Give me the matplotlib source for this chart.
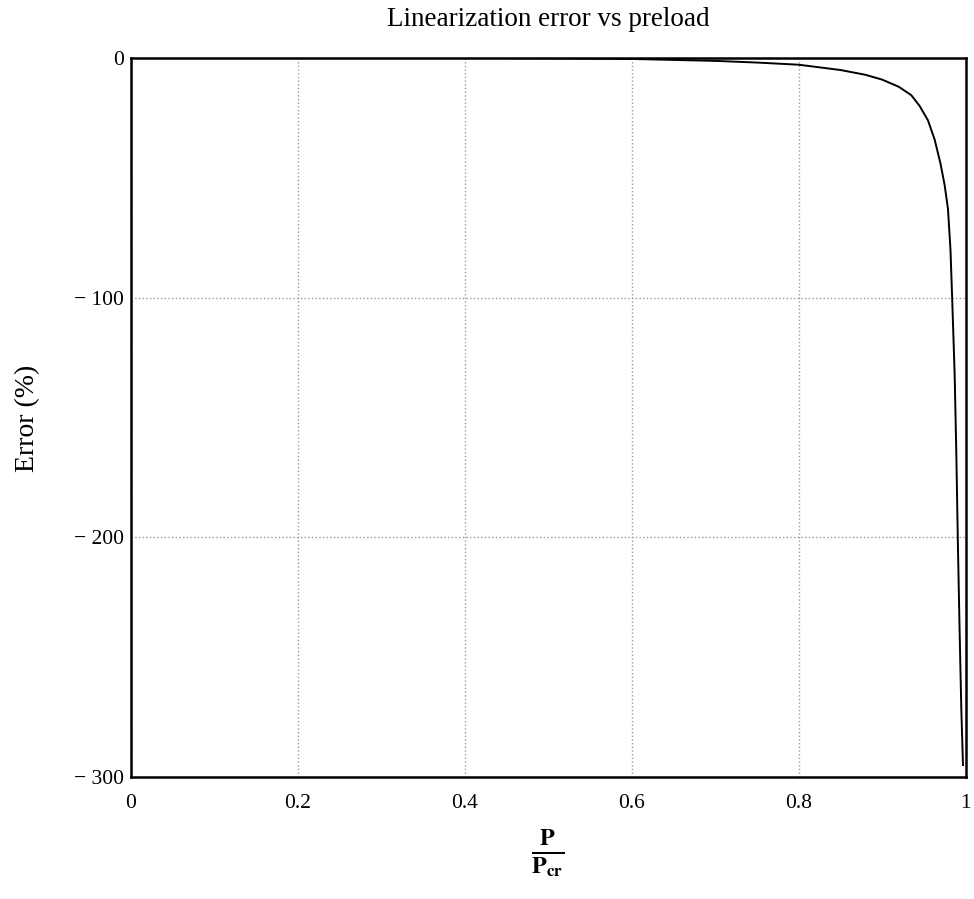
import matplotlib
matplotlib.use("Agg")
import matplotlib.pyplot as plt

plt.rcParams['font.family'] = ['Liberation Serif', 'DejaVu Serif']
plt.rcParams['mathtext.fontset'] = 'stix'

# Data: load ratio P/Pcr vs linearization error (%)
load_ratio = [0.42, 0.5, 0.6, 0.7, 0.75, 0.8, 0.85, 0.88, 0.9, 0.92, 0.935,
              0.945, 0.955, 0.963, 0.97, 0.975, 0.979, 0.982, 0.984, 0.987,
              0.989, 0.991, 0.993, 0.995, 0.997]
error_pct = [0.0, -0.1, -0.4, -1.2, -1.9, -2.8, -5.0, -7.0, -9.0, -12, -15.5,
             -20, -26, -34, -44, -53, -63, -80, -100, -132,
             -165, -205, -240, -272, -295]

x_ticks = [0, 0.2, 0.4, 0.6, 0.8, 1]
x_tick_labels = ["0", "0.2", "0.4", "0.6", "0.8", "1"]
y_ticks = [0, -100, -200, -300]
y_tick_labels = ["0", "\u2212 100", "\u2212 200", "\u2212 300"]

fig = plt.figure(figsize=(9.74, 8.99), dpi=100)
ax = fig.add_axes([131/974, 1-777/899, (965.5-131)/974, (777-58)/899])

ax.plot(load_ratio, error_pct, color='black', linewidth=1.4)

ax.set_xlim(0, 1)
ax.set_ylim(-300, 0)
ax.set_xticks(x_ticks)
ax.set_xticklabels(x_tick_labels)
ax.set_yticks(y_ticks)
ax.set_yticklabels(y_tick_labels)
ax.tick_params(length=0, labelsize=15.5, colors='black')
ax.tick_params(axis='y', pad=5)
ax.tick_params(axis='x', pad=12)
ax.grid(True, color='#9a9a9a', linestyle=':', linewidth=1.0)
for s in ax.spines.values():
    s.set_linewidth(1.8)
    s.set_color('black')

fig.text(548/974, 1-20/899, "Linearization error vs preload", ha='center', va='center', fontsize=19.5)
fig.text(28/974, 1-418/899, "Error (%)", ha='center', va='center', rotation=90, fontsize=20)
fig.text(548/974, 1-853/899, r'$\frac{\mathbf{P}}{\mathbf{P}_{\mathbf{cr}}}$', ha='center', va='center', fontsize=25)

fig.savefig("out.png", dpi=100)
